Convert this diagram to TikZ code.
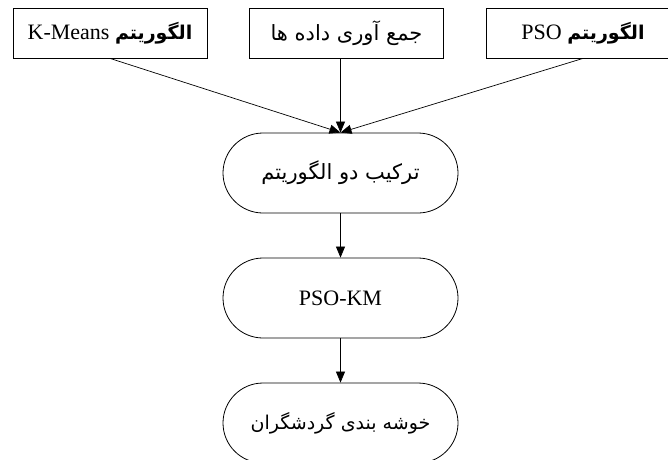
\documentclass[tikz,border=0pt]{standalone}
\usepackage{fontspec}
\setmainfont{Liberation Serif}
\newfontfamily\fa[Script=Arabic]{DejaVu Sans}
\TeXXeTstate=1
\usetikzlibrary{shapes.misc,arrows.meta}
\begin{document}
\begin{tikzpicture}[x=1pt,y=-1pt,
 topbox/.style={draw,line width=0.8pt,minimum width=194pt,minimum height=50pt,inner sep=0pt,font=\fontsize{22}{26}\selectfont},
 pill/.style={draw,line width=0.8pt,rounded rectangle,minimum width=235pt,minimum height=80pt,inner sep=0pt,font=\fontsize{22}{26}\selectfont},
 conn/.style={line width=0.7pt,-{Triangle[length=11pt,width=9pt]}}]
\useasboundingbox (0,0) rectangle (668,459);
\clip (0,0) rectangle (668,459);
\node[topbox] (km) at (110,33) {K-Means {\fa\bfseries\fontsize{19}{22}\selectfont\beginR الگوریتم\endR}};
\node[topbox] (data) at (346.5,33) {\fa\fontsize{21}{24}\selectfont\beginR جمع آوری داده ها\endR};
\node[topbox] (pso) at (583,33) {PSO {\fa\bfseries\fontsize{19}{22}\selectfont\beginR الگوریتم\endR}};
\node[pill] (mix) at (340.5,173) {\fa\fontsize{21}{24}\selectfont\beginR ترکیب دو الگوریتم\endR};
\node[pill] (hyb) at (340.5,298) {PSO-KM};
\node[pill] (clu) at (340.5,423) {\fa\fontsize{19}{22}\selectfont\beginR خوشه بندی گردشگران\endR};
\draw[conn] (km.south) -- (mix.north);
\draw[conn] (pso.south) -- (mix.north);
\draw[conn] (mix.north |- data.south) -- (mix.north);
\draw[conn] (mix.south) -- (hyb.north);
\draw[conn] (hyb.south) -- (clu.north);
\end{tikzpicture}
\end{document}
